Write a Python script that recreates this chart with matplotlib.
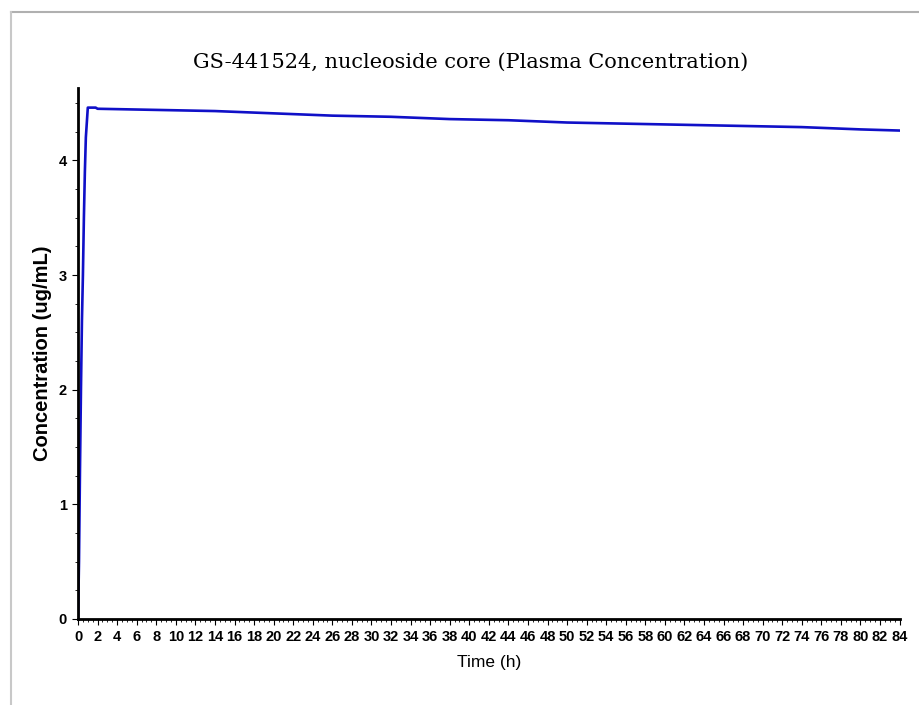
import matplotlib
matplotlib.use('Agg')
import matplotlib.pyplot as plt
from matplotlib.lines import Line2D
from matplotlib.ticker import MultipleLocator
import numpy as np

# simulated plasma concentration of GS-441524
time_h = [0, 0.1, 0.2, 0.3, 0.4, 0.5, 0.6, 0.7, 0.8, 1.0, 1.8, 2.0, 8, 14, 20, 26,
          32, 38, 44, 50, 56, 62, 68, 74, 80, 84]
conc = [0, 0.5, 1.3, 2.0, 2.6, 3.0, 3.5, 3.9, 4.2, 4.46, 4.46, 4.45, 4.44, 4.43, 4.41, 4.39,
        4.38, 4.36, 4.35, 4.33, 4.32, 4.31, 4.30, 4.29, 4.27, 4.26]

xticks = np.arange(0, 85, 2)
yticks = [0, 1, 2, 3, 4]

sans = ['Liberation Sans', 'DejaVu Sans']

fig = plt.figure(figsize=(9.19, 7.05), dpi=100)
ax = fig.add_axes([0.0849, 0.122, 0.894, 0.753])

ax.plot(time_h, conc, color='#1010c8', lw=1.9)

ax.set_xlim(0, 84)
ax.set_ylim(0, 4.63)
ax.set_xticks(xticks)
ax.set_yticks(yticks)
ax.xaxis.set_minor_locator(MultipleLocator(0.5))
ax.yaxis.set_minor_locator(MultipleLocator(0.25))
ax.tick_params(which='major', length=4, width=0.8, pad=4)
ax.tick_params(which='minor', length=2.5, width=0.6)
for lab in ax.get_xticklabels() + ax.get_yticklabels():
    lab.set_family(sans)
    lab.set_fontweight('bold')
    lab.set_fontsize(10.5)

for s in ['top', 'right']:
    ax.spines[s].set_visible(False)
for s in ['left', 'bottom']:
    ax.spines[s].set_linewidth(2)

ax.set_xlabel('Time (h)', family=sans, fontsize=12.5, labelpad=8)
ax.set_ylabel('Concentration (ug/mL)', family=sans,
              fontweight='bold', fontsize=14.5, labelpad=5)

fig.text(0.512, 0.912, 'GS-441524, nucleoside core (Plasma Concentration)',
         ha='center', va='center', family=['DejaVu Serif'], fontsize=15)

# grey frame at top and left edges
fig.add_artist(Line2D([11/919, 1], [1 - 12/705, 1 - 12/705], color='#b0b0b0', lw=1.5))
fig.add_artist(Line2D([11/919, 11/919], [0, 1 - 12/705], color='#c8c8c8', lw=1.5))

fig.savefig('out.png', dpi=100)
